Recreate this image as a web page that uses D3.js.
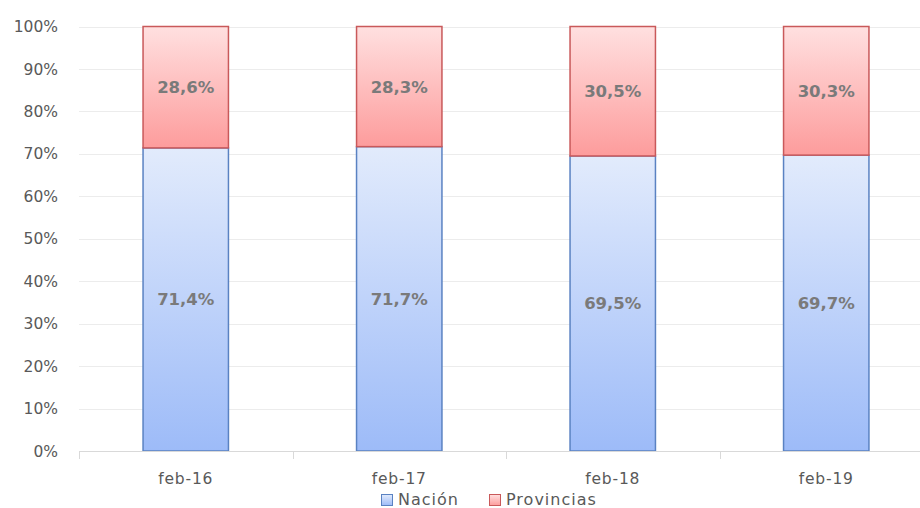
<!DOCTYPE html>
<html>
<head>
<meta charset="utf-8">
<script src="https://cdn.jsdelivr.net/npm/d3@7"></script>
<style>
  body { margin: 0; background: #fff; }
  svg { display: block; font-family: "DejaVu Sans", sans-serif; }
</style>
</head>
<body>
<svg width="920" height="508"></svg>
<script>
var categories = ["feb-16", "feb-17", "feb-18", "feb-19"];
var nacion = [71.4, 71.7, 69.5, 69.7];
var provincias = [28.6, 28.3, 30.5, 30.3];
var seriesNames = ["Nación", "Provincias"];
var yTicks = [0, 10, 20, 30, 40, 50, 60, 70, 80, 90, 100];

var svg = d3.select("svg");
var defs = svg.append("defs");

function gradient(id, c1, c2) {
  var g = defs.append("linearGradient").attr("id", id)
    .attr("x1", 0).attr("y1", 0).attr("x2", 0).attr("y2", 1);
  g.append("stop").attr("offset", "0%").attr("stop-color", c1);
  g.append("stop").attr("offset", "100%").attr("stop-color", c2);
}
gradient("gBlue", "#e2ebfc", "#9dbbf8");
gradient("gRed", "#ffe0e0", "#fd9c9c");

var plotLeft = 79, plotRight = 933, plotTop = 26.5, plotBottom = 451;

var x = d3.scaleBand().domain(categories).range([plotLeft, plotRight]);
var y = d3.scaleLinear().domain([0, 100]).range([plotBottom, plotTop]);
var barW = x.bandwidth() * 0.4;

// grid
svg.append("g").selectAll("line")
  .data(yTicks.filter(function(d) { return d > 0; }))
  .enter().append("line")
  .attr("x1", plotLeft).attr("x2", 920)
  .attr("y1", function(d) { return Math.round(y(d)) + 0.5; })
  .attr("y2", function(d) { return Math.round(y(d)) + 0.5; })
  .attr("stroke", "#ececec").attr("stroke-width", 1);

// y labels
svg.append("g").selectAll("text")
  .data(yTicks)
  .enter().append("text")
  .attr("x", 58).attr("y", function(d) { return y(d); })
  .attr("dy", "0.36em")
  .attr("text-anchor", "end")
  .attr("fill", "#595959")
  .style("font-size", "15.5px")
  .text(function(d) { return d + "%"; });

// stacked data
var rows = categories.map(function(c, i) {
  return { cat: c, nacion: nacion[i], provincias: provincias[i] };
});
var stack = d3.stack().keys(["nacion", "provincias"])(rows);
var fills = ["url(#gBlue)", "url(#gRed)"];
var strokes = ["#5a82c2", "#c9595a"];

stack.forEach(function(layer, k) {
  var g = svg.append("g");
  g.selectAll("rect")
    .data(layer)
    .enter().append("rect")
    .attr("x", function(d) { return x(d.data.cat) + (x.bandwidth() - barW) / 2; })
    .attr("y", function(d) { return y(d[1]); })
    .attr("width", barW)
    .attr("height", function(d) { return y(d[0]) - y(d[1]); })
    .attr("fill", fills[k])
    .attr("stroke", strokes[k])
    .attr("stroke-width", 1.5);

  g.selectAll("text")
    .data(layer)
    .enter().append("text")
    .attr("x", function(d) { return x(d.data.cat) + x.bandwidth() / 2; })
    .attr("y", function(d) { return (y(d[0]) + y(d[1])) / 2; })
    .attr("dy", "0.36em")
    .attr("text-anchor", "middle")
    .attr("fill", "#7a7a7a")
    .style("font-size", "16.5px")
    .style("font-weight", "bold")
    .text(function(d) { return (d[1] - d[0]).toFixed(1).replace(".", ",") + "%"; });
});

// x axis
var xAxis = svg.append("g");
xAxis.append("line")
  .attr("x1", plotLeft).attr("x2", 920)
  .attr("y1", plotBottom + 0.5).attr("y2", plotBottom + 0.5)
  .attr("stroke", "#d9d9d9");
xAxis.selectAll(".tick")
  .data(categories)
  .enter().append("line")
  .attr("x1", function(d) { return Math.round(x(d)) + 0.5; })
  .attr("x2", function(d) { return Math.round(x(d)) + 0.5; })
  .attr("y1", plotBottom).attr("y2", plotBottom + 8)
  .attr("stroke", "#d9d9d9");
xAxis.selectAll("text")
  .data(categories)
  .enter().append("text")
  .attr("x", function(d) { return x(d) + x.bandwidth() / 2; })
  .attr("y", 484)
  .attr("text-anchor", "middle")
  .attr("fill", "#595959")
  .style("font-size", "15.5px")
  .style("letter-spacing", "0.8px")
  .text(function(d) { return d; });

// legend
var legendX = [381, 489];
var legend = svg.append("g");
seriesNames.forEach(function(name, k) {
  legend.append("rect")
    .attr("x", legendX[k] + 0.5).attr("y", 494.5)
    .attr("width", 11).attr("height", 11)
    .attr("fill", fills[k]).attr("stroke", strokes[k]);
  legend.append("text")
    .attr("x", legendX[k] + 17).attr("y", 505)
    .attr("fill", "#595959")
    .style("font-size", "16px")
    .style("letter-spacing", "1px")
    .text(name);
});
</script>
</body>
</html>
